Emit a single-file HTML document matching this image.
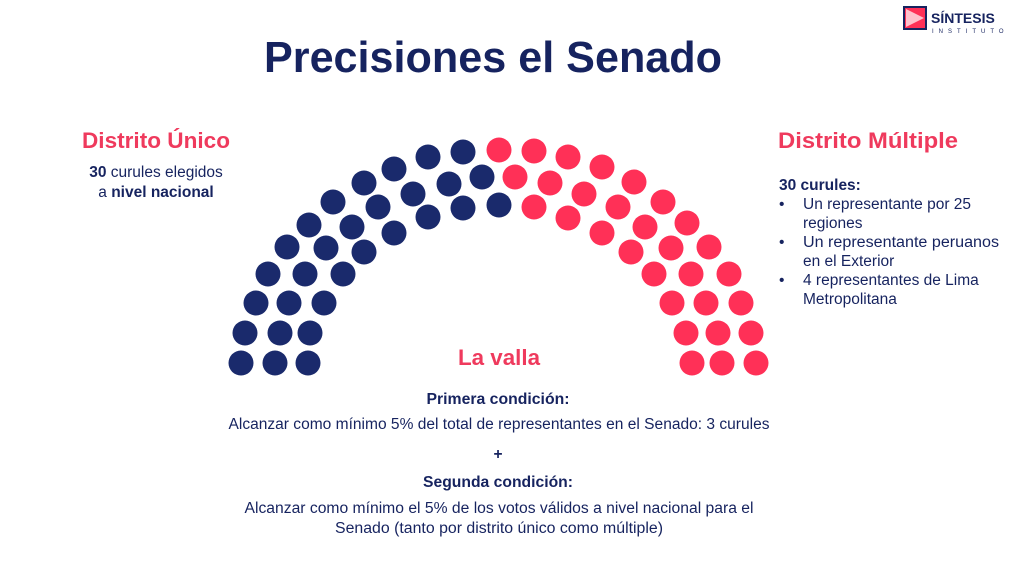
<!DOCTYPE html><html><head><meta charset="utf-8"><style>
body{margin:0;background:#fff;width:1024px;height:572px;overflow:hidden}
svg{display:block}
text{font-family:"Liberation Sans",sans-serif}
</style></head><body>
<svg width="1024" height="572" viewBox="0 0 1024 572">
<text x="493" y="72" text-anchor="middle" font-size="44" font-weight="bold" fill="#16235f" textLength="458" lengthAdjust="spacingAndGlyphs">Precisiones el Senado</text>
<g transform="translate(904,7)">
<rect x="0" y="0" width="22" height="22" fill="#ff3057" stroke="#16235f" stroke-width="2"/>
<path d="M2 2 L20 11 L2 20 Z" fill="#fff" opacity="0.7"/>
<text x="27" y="16" font-size="14" font-weight="bold" fill="#16235f">SÍNTESIS</text>
<text x="28" y="26" font-size="6" fill="#16235f" letter-spacing="5">INSTITUTO</text>
</g>
<text x="82" y="148" font-size="22" font-weight="bold" fill="#ef3a5d" textLength="148" lengthAdjust="spacingAndGlyphs">Distrito Único</text>
<text x="156" y="177" text-anchor="middle" font-size="15.5" fill="#16235f"><tspan font-weight="bold">30</tspan> curules elegidos</text>
<text x="156" y="197" text-anchor="middle" font-size="15.5" fill="#16235f">a <tspan font-weight="bold">nivel nacional</tspan></text>
<text x="778" y="148" font-size="22" font-weight="bold" fill="#ef3a5d" textLength="180" lengthAdjust="spacingAndGlyphs">Distrito Múltiple</text>
<g font-size="15.5" fill="#16235f">
<text x="779" y="190" font-weight="bold">30 curules:</text>
<text x="779" y="209">•</text><text x="803" y="209">Un representante por 25</text>
<text x="803" y="228">regiones</text>
<text x="779" y="247">•</text><text x="803" y="247" textLength="196" lengthAdjust="spacingAndGlyphs">Un representante peruanos</text>
<text x="803" y="266">en el Exterior</text>
<text x="779" y="285">•</text><text x="803" y="285">4 representantes de Lima</text>
<text x="803" y="304">Metropolitana</text>
</g>
<g fill="#1a2a6c">
<circle cx="241" cy="363" r="12.5"/><circle cx="245" cy="333" r="12.5"/><circle cx="256" cy="303" r="12.5"/><circle cx="268" cy="274" r="12.5"/><circle cx="287" cy="247" r="12.5"/><circle cx="309" cy="225" r="12.5"/><circle cx="333" cy="202" r="12.5"/><circle cx="364" cy="183" r="12.5"/><circle cx="394" cy="169" r="12.5"/><circle cx="428" cy="157" r="12.5"/><circle cx="463" cy="152" r="12.5"/>
<circle cx="275" cy="363" r="12.5"/><circle cx="280" cy="333" r="12.5"/><circle cx="289" cy="303" r="12.5"/><circle cx="305" cy="274" r="12.5"/><circle cx="326" cy="248" r="12.5"/><circle cx="352" cy="227" r="12.5"/><circle cx="378" cy="207" r="12.5"/><circle cx="413" cy="194" r="12.5"/><circle cx="449" cy="184" r="12.5"/><circle cx="482" cy="177" r="12.5"/>
<circle cx="308" cy="363" r="12.5"/><circle cx="310" cy="333" r="12.5"/><circle cx="324" cy="303" r="12.5"/><circle cx="343" cy="274" r="12.5"/><circle cx="364" cy="252" r="12.5"/><circle cx="394" cy="233" r="12.5"/><circle cx="428" cy="217" r="12.5"/><circle cx="463" cy="208" r="12.5"/><circle cx="499" cy="205" r="12.5"/>
</g>
<g fill="#ff3057">
<circle cx="499" cy="150" r="12.5"/><circle cx="534" cy="151" r="12.5"/><circle cx="568" cy="157" r="12.5"/><circle cx="602" cy="167" r="12.5"/><circle cx="634" cy="182" r="12.5"/><circle cx="663" cy="202" r="12.5"/><circle cx="687" cy="223" r="12.5"/><circle cx="709" cy="247" r="12.5"/><circle cx="729" cy="274" r="12.5"/><circle cx="741" cy="303" r="12.5"/><circle cx="751" cy="333" r="12.5"/><circle cx="756" cy="363" r="12.5"/>
<circle cx="515" cy="177" r="12.5"/><circle cx="550" cy="183" r="12.5"/><circle cx="584" cy="194" r="12.5"/><circle cx="618" cy="207" r="12.5"/><circle cx="645" cy="227" r="12.5"/><circle cx="671" cy="248" r="12.5"/><circle cx="691" cy="274" r="12.5"/><circle cx="706" cy="303" r="12.5"/><circle cx="718" cy="333" r="12.5"/><circle cx="722" cy="363" r="12.5"/>
<circle cx="534" cy="207" r="12.5"/><circle cx="568" cy="218" r="12.5"/><circle cx="602" cy="233" r="12.5"/><circle cx="631" cy="252" r="12.5"/><circle cx="654" cy="274" r="12.5"/><circle cx="672" cy="303" r="12.5"/><circle cx="686" cy="333" r="12.5"/><circle cx="692" cy="363" r="12.5"/>
</g>
<text x="499" y="365" text-anchor="middle" font-size="22" font-weight="bold" fill="#ef3a5d" textLength="82" lengthAdjust="spacingAndGlyphs">La valla</text>
<g font-size="15.5" fill="#16235f" text-anchor="middle">
<text x="498" y="404" font-weight="bold" textLength="143" lengthAdjust="spacingAndGlyphs">Primera condición:</text>
<text x="499" y="429" textLength="541" lengthAdjust="spacingAndGlyphs">Alcanzar como mínimo 5% del total de representantes en el Senado: 3 curules</text>
<text x="498" y="459" font-weight="bold">+</text>
<text x="498" y="487" font-weight="bold" textLength="150" lengthAdjust="spacingAndGlyphs">Segunda condición:</text>
<text x="499" y="513" textLength="509" lengthAdjust="spacingAndGlyphs">Alcanzar como mínimo el 5% de los votos válidos a nivel nacional para el</text>
<text x="499" y="533" textLength="328" lengthAdjust="spacingAndGlyphs">Senado (tanto por distrito único como múltiple)</text>
</g>
</svg>
</body></html>
